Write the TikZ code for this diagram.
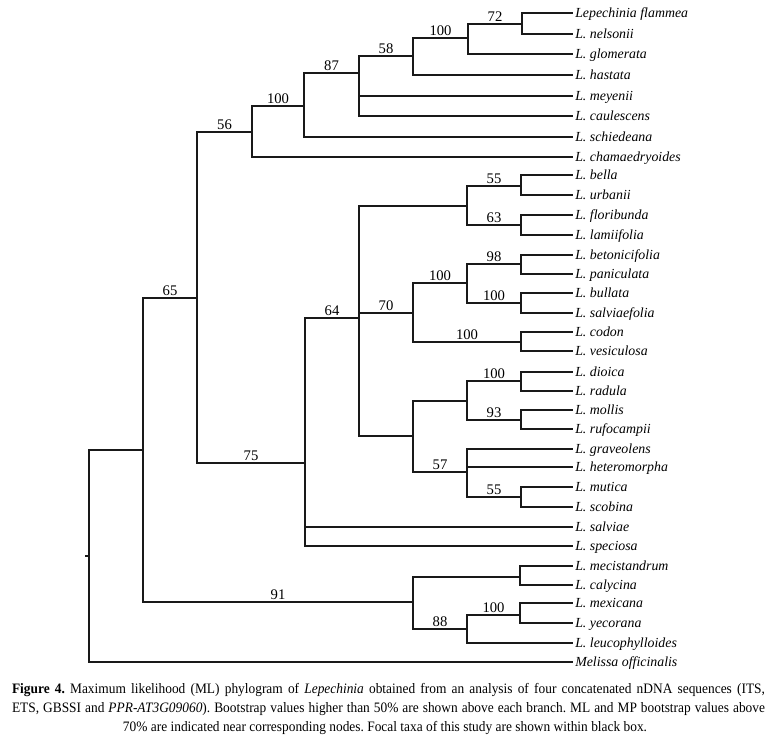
\documentclass[tikz,border=0pt]{standalone}
\usepackage{fontspec}
\setmainfont{Liberation Serif}
\frenchspacing
\newcommand{\capline}[1]{\scalebox{0.93}[1]{\makebox[607.26pt][s]{#1}}}
\begin{document}
\begin{tikzpicture}[x=0.75pt,y=-0.75pt,
  tree/.style={line width=0.8pt,draw=black!90},
  leaf/.style={anchor=west,inner xsep=1.5pt,inner ysep=0pt,text height=0.7em,text depth=0.05em,font=\fontsize{10.4}{12}\selectfont\itshape},
  boot/.style={above,inner sep=1.2pt,font=\fontsize{11}{12}\selectfont},
  captext/.style={inner sep=0pt,font=\fontsize{10.8}{12}\selectfont}]
\useasboundingbox (0,0) rectangle (775,755);
% leaves
\node[leaf] (fla) at (573,13) {Lepechinia flammea};
\node[leaf] (nel) at (573,34) {L. nelsonii};
\node[leaf] (glo) at (573,54) {L. glomerata};
\node[leaf] (has) at (573,75) {L. hastata};
\node[leaf] (mey) at (573,96) {L. meyenii};
\node[leaf] (cau) at (573,116) {L. caulescens};
\node[leaf] (sch) at (573,137) {L. schiedeana};
\node[leaf] (cha) at (573,157) {L. chamaedryoides};
\node[leaf] (bel) at (573,175) {L. bella};
\node[leaf] (urb) at (573,195) {L. urbanii};
\node[leaf] (flo) at (573,215) {L. floribunda};
\node[leaf] (lam) at (573,235) {L. lamiifolia};
\node[leaf] (bet) at (573,255) {L. betonicifolia};
\node[leaf] (pan) at (573,274) {L. paniculata};
\node[leaf] (bul) at (573,293) {L. bullata};
\node[leaf] (sal) at (573,313) {L. salviaefolia};
\node[leaf] (cod) at (573,332) {L. codon};
\node[leaf] (ves) at (573,351) {L. vesiculosa};
\node[leaf] (dio) at (573,372) {L. dioica};
\node[leaf] (rad) at (573,391) {L. radula};
\node[leaf] (mol) at (573,410) {L. mollis};
\node[leaf] (ruf) at (573,429) {L. rufocampii};
\node[leaf] (gra) at (573,449) {L. graveolens};
\node[leaf] (het) at (573,467) {L. heteromorpha};
\node[leaf] (mut) at (573,487) {L. mutica};
\node[leaf] (sco) at (573,507) {L. scobina};
\node[leaf] (slv) at (573,527) {L. salviae};
\node[leaf] (spe) at (573,546) {L. speciosa};
\node[leaf] (mec) at (573,566) {L. mecistandrum};
\node[leaf] (cal) at (573,585) {L. calycina};
\node[leaf] (mex) at (573,603) {L. mexicana};
\node[leaf] (yec) at (573,623) {L. yecorana};
\node[leaf] (leu) at (573,643) {L. leucophylloides};
\node[leaf] (mel) at (573,662) {Melissa officinalis};
% internal nodes
\coordinate (stub) at (85,556);
\coordinate (root) at (89,556);
\coordinate (A) at (143,450);
\coordinate (n65) at (197,298);
\coordinate (n56) at (252,132);
\coordinate (n100b) at (304,106);
\coordinate (n87) at (359,73);
\coordinate (n58) at (413,56);
\coordinate (n100a) at (468,38);
\coordinate (n72) at (522,24);
\coordinate (n75) at (305,463);
\coordinate (n64) at (359,318);
\coordinate (nB) at (467,206);
\coordinate (n55a) at (521,186);
\coordinate (n63) at (521,225);
\coordinate (n70) at (413,313);
\coordinate (n100c) at (467,283);
\coordinate (n98) at (521,264);
\coordinate (n100d) at (521,303);
\coordinate (n100e) at (521,342);
\coordinate (nD) at (413,436);
\coordinate (nDR) at (467,401);
\coordinate (n100f) at (521,381);
\coordinate (n93) at (521,420);
\coordinate (n57) at (467,472);
\coordinate (n55b) at (521,497);
\coordinate (n91) at (413,602);
\coordinate (nMC) at (520,577);
\coordinate (n88) at (467,629);
\coordinate (n100g) at (520,615);
% edges
\draw[tree] (stub) -- (root);
\draw[tree] (root) |- (A);
\draw[tree] (root) |- (mel.west);
\draw[tree] (A) |- node[boot,pos=0.75]{65} (n65);
\draw[tree] (A) |- node[boot,pos=0.75]{91} (n91);
\draw[tree] (n65) |- node[boot,pos=0.75]{56} (n56);
\draw[tree] (n65) |- node[boot,pos=0.75]{75} (n75);
\draw[tree] (n56) |- node[boot,pos=0.75]{100} (n100b);
\draw[tree] (n56) |- (cha.west);
\draw[tree] (n100b) |- node[boot,pos=0.75]{87} (n87);
\draw[tree] (n100b) |- (sch.west);
\draw[tree] (n87) |- node[boot,pos=0.75]{58} (n58);
\draw[tree] (n87) |- (mey.west);
\draw[tree] (n87) |- (cau.west);
\draw[tree] (n58) |- node[boot,pos=0.75]{100} (n100a);
\draw[tree] (n58) |- (has.west);
\draw[tree] (n100a) |- node[boot,pos=0.75]{72} (n72);
\draw[tree] (n100a) |- (glo.west);
\draw[tree] (n72) |- (fla.west);
\draw[tree] (n72) |- (nel.west);
\draw[tree] (n75) |- node[boot,pos=0.75]{64} (n64);
\draw[tree] (n75) |- (slv.west);
\draw[tree] (n75) |- (spe.west);
\draw[tree] (n64) |- (nB);
\draw[tree] (n64) |- node[boot,pos=0.75]{70} (n70);
\draw[tree] (n64) |- (nD);
\draw[tree] (nB) |- node[boot,pos=0.75]{55} (n55a);
\draw[tree] (nB) |- node[boot,pos=0.75]{63} (n63);
\draw[tree] (n55a) |- (bel.west);
\draw[tree] (n55a) |- (urb.west);
\draw[tree] (n63) |- (flo.west);
\draw[tree] (n63) |- (lam.west);
\draw[tree] (n70) |- node[boot,pos=0.75]{100} (n100c);
\draw[tree] (n70) |- node[boot,pos=0.75]{100} (n100e);
\draw[tree] (n100c) |- node[boot,pos=0.75]{98} (n98);
\draw[tree] (n100c) |- node[boot,pos=0.75]{100} (n100d);
\draw[tree] (n98) |- (bet.west);
\draw[tree] (n98) |- (pan.west);
\draw[tree] (n100d) |- (bul.west);
\draw[tree] (n100d) |- (sal.west);
\draw[tree] (n100e) |- (cod.west);
\draw[tree] (n100e) |- (ves.west);
\draw[tree] (nD) |- (nDR);
\draw[tree] (nD) |- node[boot,pos=0.75]{57} (n57);
\draw[tree] (nDR) |- node[boot,pos=0.75]{100} (n100f);
\draw[tree] (nDR) |- node[boot,pos=0.75]{93} (n93);
\draw[tree] (n100f) |- (dio.west);
\draw[tree] (n100f) |- (rad.west);
\draw[tree] (n93) |- (mol.west);
\draw[tree] (n93) |- (ruf.west);
\draw[tree] (n57) |- (gra.west);
\draw[tree] (n57) |- (het.west);
\draw[tree] (n57) |- node[boot,pos=0.75]{55} (n55b);
\draw[tree] (n55b) |- (mut.west);
\draw[tree] (n55b) |- (sco.west);
\draw[tree] (n91) |- (nMC);
\draw[tree] (n91) |- node[boot,pos=0.75]{88} (n88);
\draw[tree] (nMC) |- (mec.west);
\draw[tree] (nMC) |- (cal.west);
\draw[tree] (n88) |- node[boot,pos=0.75]{100} (n100g);
\draw[tree] (n88) |- (leu.west);
\draw[tree] (n100g) |- (mex.west);
\draw[tree] (n100g) |- (yec.west);
% caption
\node[captext] (c1) at (388.5,690) {\capline{\textbf{Figure 4.} Maximum likelihood (ML) phylogram of \textit{Lepechinia} obtained from an analysis of four concatenated nDNA sequences (ITS,}};
\node[captext] (c2) at (388.5,709) {\capline{ETS, GBSSI and \textit{PPR-AT3G09060}). Bootstrap values higher than 50\% are shown above each branch. ML and MP bootstrap values above}};
\node[captext] (c3) at (385,728) {\scalebox{0.93}[1]{70\% are indicated near corresponding nodes. Focal taxa of this study are shown within black box.}};
\end{tikzpicture}
\end{document}
